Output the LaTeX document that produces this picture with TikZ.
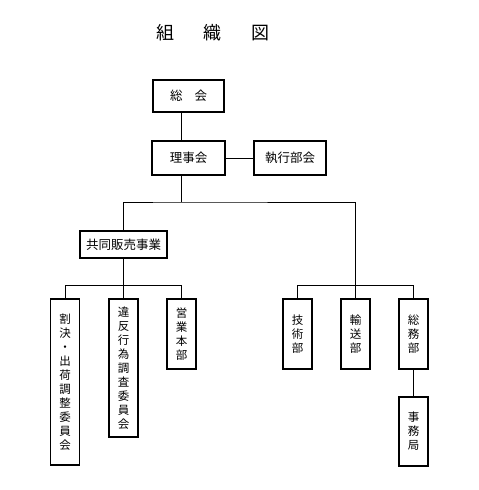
\documentclass[tikz,border=0pt]{standalone}
\usepackage{fontspec}
\usepackage{tikz}
\newfontfamily\jp{Noto Sans CJK JP}

\begin{document}
\begin{tikzpicture}[x=1pt,y=-1pt,
	box/.style={draw,line width=1.1pt,inner sep=0pt,align=center,
		font=\jp\fontsize{12.5}{14}\selectfont},
	vbox/.style={box,minimum width=29pt,font=\jp\fontsize{11.5}{14}\selectfont},
	link/.style={line width=0.8pt}]
			\useasboundingbox (0,0) rectangle (479,490);
			\node (title) at (213,33) {\jp\fontsize{18}{18}\selectfont 組\hspace{30pt}織\hspace{30pt}図};
			% top levels
			\node[box,minimum width=71pt,minimum height=32pt] (sokai) at (188.5,96) {総\hspace{12pt}会};
			\node[box,minimum width=73pt,minimum height=34pt] (rijikai) at (188.5,158) {理事会};
			\node[box,minimum width=72pt,minimum height=34pt] (shikko) at (290,158) {執行部会};
			\node[box,minimum width=87pt,minimum height=27pt] (kyodo) at (123.5,244.5) {共同販売事業};
			% vertical boxes
			\node[vbox,minimum height=166pt] (waketsu) at (65,382) {割\\決\\・\\出\\荷\\調\\整\\委\\員\\会};
			\node[vbox,minimum height=138pt] (ihan) at (123.5,368) {違\\反\\行\\為\\調\\査\\委\\員\\会};
			\node[vbox,minimum height=70pt] (eigyo) at (181.5,334) {営\\業\\本\\部};
			\node[vbox,minimum height=70pt] (gijutsu) at (297.5,334) {技\\術\\部};
			\node[vbox,minimum height=70pt] (yuso) at (355.5,334) {輸\\送\\部};
			\node[vbox,minimum height=70pt] (somu) at (413.5,334) {総\\務\\部};
			\node[vbox,minimum height=69pt] (jimu) at (413.5,431.5) {事\\務\\局};
			% connectors
			\coordinate (trunk) at (181.5,202);
			\draw[link] (sokai.south -| trunk) -- (rijikai.north -| trunk);
			\draw[link] (rijikai) -- (shikko);
			\draw[link] (rijikai.south -| trunk) -- (trunk);
			\draw[link] (kyodo.north) |- (trunk) -| (yuso.north);
			\draw[link] (kyodo.south) -- (ihan.north);
			\draw[link] (waketsu.north) -- ++(0,-13) -| (eigyo.north);
			\draw[link] (gijutsu.north) -- ++(0,-13) -| (somu.north);
			\draw[link] (somu) -- (jimu);
		\end{tikzpicture}
\end{document}
